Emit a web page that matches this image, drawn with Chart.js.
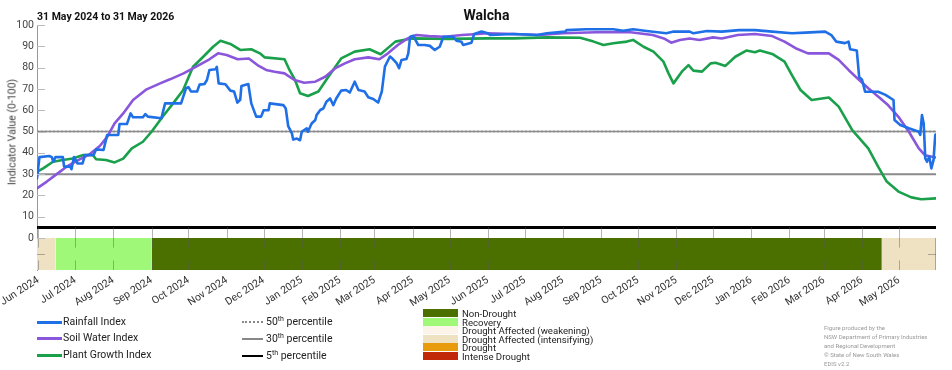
<!DOCTYPE html>
<html lang="en">
<head>
<meta charset="UTF-8" />
<title>Walcha - drought indicators</title>
<script src="https://cdn.jsdelivr.net/npm/chart.js"></script>
<style>
  body { margin: 0; background: #fff; font-family: Roboto, "Liberation Sans", sans-serif; color: #222; }
  #wrap { position: relative; width: 952px; height: 370px; overflow: hidden; }
  canvas { position: absolute; left: 0; top: 0; }
  .t { position: absolute; white-space: nowrap; }
  #title { left: 37px; width: 899px; top: 7px; text-align: center; font-weight: bold; font-size: 14px; color: #111; }
  #sub { left: 37px; top: 10px; font-weight: bold; font-size: 10.5px; color: #111; }
  #ytitle { left: 12px; top: 132px; font-size: 10.5px; color: #444; transform: translate(-50%, -50%) rotate(-90deg); }
  .sw { position: absolute; }
  .lg { position: absolute; font-size: 10.5px; line-height: 12px; color: #222; white-space: nowrap; }
  .lg sup { font-size: 7px; vertical-align: 4px; line-height: 0; }
  .dl { position: absolute; font-size: 9.6px; line-height: 9px; color: #222; white-space: nowrap; }
  .fig { position: absolute; left: 824px; font-size: 6px; color: #999; white-space: nowrap; }
</style>
</head>
<body>
<div id="wrap">
  <canvas id="chart" width="952" height="370"></canvas>
  <div id="title" class="t">Walcha</div>
  <div id="sub" class="t">31 May 2024 to 31 May 2026</div>
  <div id="ytitle" class="t">Indicator Value (0-100)</div>

  <div class="sw" style="left:37px;top:321px;width:25px;height:3px;background:#1f6fe6"></div>
  <div class="lg" style="left:63px;top:316px">Rainfall Index</div>
  <div class="sw" style="left:37px;top:337px;width:25px;height:3px;background:#8a56dc"></div>
  <div class="lg" style="left:63px;top:332px">Soil Water Index</div>
  <div class="sw" style="left:37px;top:354px;width:25px;height:3px;background:#1aa04a"></div>
  <div class="lg" style="left:63px;top:349px">Plant Growth Index</div>

  <div class="sw" style="left:242px;top:321px;width:21px;height:0;border-top:2px dotted #888"></div>
  <div class="lg" style="left:266px;top:316px">50<sup>th</sup> percentile</div>
  <div class="sw" style="left:242px;top:338px;width:21px;height:2px;background:#888"></div>
  <div class="lg" style="left:266px;top:333px">30<sup>th</sup> percentile</div>
  <div class="sw" style="left:242px;top:355px;width:21px;height:2px;background:#000"></div>
  <div class="lg" style="left:266px;top:350px">5<sup>th</sup> percentile</div>

  <div class="sw" style="left:423px;top:309px;width:35px;height:8px;background:#4c7000"></div>
  <div class="dl" style="left:462px;top:309px">Non-Drought</div>
  <div class="sw" style="left:423px;top:318px;width:35px;height:8px;background:#a0f878"></div>
  <div class="dl" style="left:462px;top:318px">Recovery</div>
  <div class="sw" style="left:423px;top:326px;width:35px;height:8px;background:#fcf4e9"></div>
  <div class="dl" style="left:462px;top:326px">Drought Affected (weakening)</div>
  <div class="sw" style="left:423px;top:335px;width:35px;height:8px;background:#eee2c3"></div>
  <div class="dl" style="left:462px;top:335px">Drought Affected (intensifying)</div>
  <div class="sw" style="left:423px;top:343px;width:35px;height:8px;background:#e89b0c"></div>
  <div class="dl" style="left:462px;top:343px">Drought</div>
  <div class="sw" style="left:423px;top:352px;width:35px;height:8px;background:#c02808"></div>
  <div class="dl" style="left:462px;top:352px">Intense Drought</div>

  <div class="fig" style="top:324px">Figure produced by the</div>
  <div class="fig" style="top:333px">NSW Department of Primary Industries</div>
  <div class="fig" style="top:342px">and Regional Development</div>
  <div class="fig" style="top:351px">© State of New South Wales</div>
  <div class="fig" style="top:360px">EDIS v2.2</div>
</div>

<script>
// days counted from 31 May 2024
const monthDays = [1, 31, 62, 93, 123, 154, 184, 215, 246, 274, 305, 335, 366, 396, 427, 458, 488, 519, 549, 580, 611, 639, 670, 700];
const monthLabels = ['Jun 2024', 'Jul 2024', 'Aug 2024', 'Sep 2024', 'Oct 2024', 'Nov 2024', 'Dec 2024', 'Jan 2025',
  'Feb 2025', 'Mar 2025', 'Apr 2025', 'May 2025', 'Jun 2025', 'Jul 2025', 'Aug 2025', 'Sep 2025', 'Oct 2025',
  'Nov 2025', 'Dec 2025', 'Jan 2026', 'Feb 2026', 'Mar 2026', 'Apr 2026', 'May 2026'];
const yTicks = [0, 10, 20, 30, 40, 50, 60, 70, 80, 90, 100];

const rainDays = [0, 2, 10, 12, 13.3, 15, 21, 22, 27, 28, 30, 33, 37, 39, 46, 48, 54, 57, 66, 67, 73, 76, 78, 86, 88, 90,
  101, 104, 117, 121, 123, 125, 130, 132, 136, 138, 140, 145, 146, 147.5, 153, 157, 160, 162.7, 165, 166, 171.6, 174,
  178, 182, 184, 188, 189, 200, 202, 204, 207, 208, 211, 213.6, 215, 219, 220, 223, 226, 227, 230, 232.5, 235, 238,
  240.6, 243, 247, 251, 254, 258, 261, 266, 269, 273, 277, 280, 282.5, 286.6, 289, 292, 294, 296, 300, 301.5, 303,
  305.5, 309.6, 315, 319, 323, 327, 330, 338, 340.6, 344.7, 346, 352.8, 355, 361, 366, 368, 387, 406, 414, 429, 430,
  446, 468, 476, 484, 495, 511, 517, 530, 533, 544, 556, 570, 583, 597, 613, 624, 640, 645, 649, 656, 659, 660.3,
  665.7, 667.6, 670, 672.4, 683, 689, 695.5, 696.3, 701, 708, 716, 717.2, 718.6, 720, 721.3, 722.7, 724.6, 726.2,
  728, 729.4, 730];
const rainfallIndex = [28, 38, 38.5, 38, 35.8, 38, 38, 33.5, 33.5, 32.3, 38, 35, 35, 39, 39, 41.6, 41.3, 48.4, 48.4,
  53.5, 53.5, 58.5, 56.7, 56.7, 58.2, 57, 56.2, 63.2, 63.2, 70.3, 70.8, 68.8, 68.8, 72, 72.3, 74.2, 78.9, 79.2, 80.3,
  72.6, 72.2, 69.2, 68.8, 63.6, 64.9, 71.4, 72.3, 63.2, 57, 57, 60, 60, 63.2, 62.4, 60.8, 52.5, 49.1, 46.2, 46.7, 45.9,
  49.9, 51.5, 49.9, 53.8, 55.4, 57.7, 60.1, 60.8, 64, 65.5, 62.4, 65.5, 69.2, 69.5, 68.3, 73.4, 69.5, 68.8, 66.1, 65.3,
  63.6, 68.8, 80.5, 85.2, 84, 82.1, 79.7, 83.6, 84, 86.7, 94.5, 94.9, 90.6, 90.6, 90.2, 88.3, 89.8, 94.5, 94.5, 92.6,
  92.1, 90.6, 91.7, 95.8, 96.9, 96.1, 95.3, 95.8, 95.3, 96.1, 96.9, 97.6, 98, 98, 97.3, 98, 97.2, 96.1, 96.9, 96.9,
  96.1, 97.2, 96.9, 97.6, 97.6, 96.9, 96.1, 96.4, 96.9, 95.3, 92.2, 91.5, 92.2, 88.6, 88, 75.7, 74.2, 68.7, 68.7, 67.2,
  64.8, 55.4, 53.1, 51.5, 49.9, 48.4, 57.7, 53.8, 37.4, 35.8, 38.2, 32.7, 36.6, 48.4, 48.7];

const soilDays = [0, 8, 16, 24, 35, 43, 51, 57, 63, 70, 78, 89, 100, 108, 119, 130, 140, 147, 154, 163, 172, 179, 186,
  193, 201, 209, 217, 226, 234, 242, 250, 258, 269, 278, 285, 293, 301, 308, 318, 331, 345, 358, 366, 387, 408, 427,
  454, 482, 500, 509, 515, 522, 530, 538, 549, 556, 569, 583, 597, 607, 616, 626, 643, 651, 659, 667, 675, 683, 691,
  699.5, 708, 716, 721, 730];
const soilWaterIndex = [23.3, 26.5, 30, 33.5, 37, 39.4, 43.2, 47.5, 53.8, 58.5, 64.8, 69.8, 72.6, 74.5, 77.3, 80.7,
  83.9, 86.7, 85.9, 83.9, 84.3, 81.2, 78.9, 78.1, 77.3, 74.2, 72.9, 73.4, 75.7, 79.6, 82, 83.9, 84.8, 83.9, 86.7, 90.6,
  93.7, 95.3, 94.8, 94.5, 95.3, 95.8, 96.1, 95.8, 95.3, 96.1, 96.6, 96.6, 95.3, 93.7, 91.7, 93, 93.7, 93, 94.2, 93.7,
  95.3, 95.8, 94.8, 92.2, 89.1, 86.7, 86.7, 83.6, 78.9, 74.5, 70.3, 66.4, 62.4, 56.9, 49.9, 42.1, 38.9, 37.8];

const plantDays = [0, 5, 13, 21, 29, 37, 45.5, 48, 56, 63, 70, 77, 86, 93, 102, 110.5, 118.6, 126.7, 135, 143, 149, 157,
  165, 174, 181, 185, 201, 205, 209.5, 213.6, 220, 228.5, 236.6, 247, 258, 270, 279, 291, 304, 335, 366, 387, 414, 441,
  452, 460, 468, 479, 484, 492.5, 500.6, 508.7, 512.8, 516.8, 523.6, 529, 533, 540, 547, 551, 559, 567, 576, 583, 587,
  597, 607, 613, 620, 629, 643, 651, 662, 675, 683, 690, 699.5, 710, 718, 730];
const plantGrowthIndex = [31.1, 32.7, 35.8, 36.6, 37.3, 38.9, 38.9, 37, 36.6, 35.5, 37.3, 42.1, 45.2, 49.9, 56.9, 63.2,
  69.4, 80.4, 85.1, 89.8, 92.6, 91.1, 88.3, 88.6, 86.7, 84.8, 83.9, 78.9, 74.2, 68, 66.7, 68.8, 75.7, 84.3, 87.5, 88.6,
  86.3, 92.2, 93.7, 93.5, 93.7, 93.7, 94.2, 94, 92.2, 90.6, 91.4, 92.2, 93, 89.8, 87.5, 82.8, 77.3, 72.6, 78.1, 81.2,
  78.6, 78.1, 82, 82.3, 80.8, 85.1, 88, 87.2, 88, 86.4, 82.8, 76.5, 69.5, 64.8, 66, 61.7, 50.7, 42.1, 33.5, 26.5, 21.8,
  19.1, 18.2, 18.6];

// drought category strip
const bandStart = [0, 15, 93, 686];
const bandEnd = [15, 93, 686, 730];
const bandClass = ['intensifying', 'recovery', 'nondrought', 'intensifying'];
const bandColours = { nondrought: '#4c7000', recovery: '#a0f878', weakening: '#fcf4e9', intensifying: '#eee2c3', drought: '#e89b0c', intense: '#c02808' };

const percentiles = [50, 30, 5];

function pts(days, vals) {
  return days.map((d, i) => ({ x: d, y: vals[i] }));
}

const datasets = [];
datasets.push({ label: 'Rainfall Index', data: pts(rainDays, rainfallIndex), borderColor: '#1f6fe6', borderWidth: 2.6, order: 1 });
datasets.push({ label: 'Soil Water Index', data: pts(soilDays, soilWaterIndex), borderColor: '#8a56dc', borderWidth: 2.6, order: 2 });
datasets.push({ label: 'Plant Growth Index', data: pts(plantDays, plantGrowthIndex), borderColor: '#1aa04a', borderWidth: 2.6, order: 3 });
datasets.push({ label: '50th', data: [{ x: 0, y: percentiles[0] }, { x: 730, y: percentiles[0] }], borderColor: '#888', borderWidth: 2, borderDash: [2, 2], order: 4 });
datasets.push({ label: '30th', data: [{ x: 0, y: percentiles[1] }, { x: 730, y: percentiles[1] }], borderColor: '#8a8a8a', borderWidth: 2, order: 5 });
datasets.push({ label: '5th', data: [{ x: 0, y: percentiles[2] }, { x: 730, y: percentiles[2] }], borderColor: '#000', borderWidth: 3, order: 6 });
bandStart.forEach((s, i) => {
  datasets.push({
    label: 'band' + i,
    data: [{ x: s, y: 0 }, { x: bandEnd[i], y: 0 }],
    borderWidth: 0,
    borderColor: 'rgba(0,0,0,0)',
    backgroundColor: bandColours[bandClass[i]],
    fill: { value: -15 },
    order: 10
  });
});

// small tick marks inside the plot (axis decoration)
const tickMarks = {
  id: 'tickMarks',
  afterDatasetsDraw(chart) {
    const { ctx, scales: { x, y }, chartArea: a } = chart;
    ctx.save();
    ctx.lineWidth = 1;
    ctx.strokeStyle = 'rgba(90,90,90,0.45)';
    monthDays.forEach(d => {
      const px = Math.round(x.getPixelForValue(d)) + 0.5;
      ctx.beginPath();
      ctx.moveTo(px, y.getPixelForValue(5));
      ctx.lineTo(px, y.getPixelForValue(-4.5));
      ctx.moveTo(px, y.getPixelForValue(-10.5));
      ctx.lineTo(px, y.getPixelForValue(-15));
      ctx.stroke();
    });
    ctx.strokeStyle = '#bbb';
    yTicks.forEach(v => {
      const py = Math.round(y.getPixelForValue(v)) + 0.5;
      ctx.beginPath();
      ctx.moveTo(a.left, py);
      ctx.lineTo(a.left + 8, py);
      ctx.stroke();
    });
    const pm = Math.round(y.getPixelForValue(-7.5)) + 0.5;
    ctx.strokeStyle = 'rgba(90,90,90,0.45)';
    ctx.beginPath();
    ctx.moveTo(a.left, pm); ctx.lineTo(a.left + 8, pm);
    ctx.moveTo(a.right - 8, pm); ctx.lineTo(a.right, pm);
    ctx.moveTo(a.right - 0.5, y.getPixelForValue(0)); ctx.lineTo(a.right - 0.5, a.bottom);
    ctx.stroke();
    ctx.restore();
  }
};

new Chart(document.getElementById('chart'), {
  type: 'line',
  data: { datasets },
  options: {
    responsive: false,
    animation: false,
    elements: { point: { radius: 0 }, line: { tension: 0, borderCapStyle: 'round', borderJoinStyle: 'round' } },
    layout: { padding: { top: 25, right: 16, left: 0, bottom: 0 } },
    plugins: { legend: { display: false }, tooltip: { enabled: false }, title: { display: false } },
    scales: {
      x: {
        type: 'linear',
        min: 0,
        max: 730,
        grid: { display: false },
        border: { display: false },
        afterBuildTicks: s => { s.ticks = monthDays.map(v => ({ value: v })); },
        afterFit: s => { s.height = 100; s.paddingLeft = 0; s.paddingRight = 0; },
        ticks: {
          autoSkip: false,
          minRotation: 33,
          maxRotation: 33,
          padding: -4,
          color: '#333',
          font: { family: 'Roboto', size: 10.5 },
          callback: (v, i) => monthLabels[i]
        }
      },
      y: {
        min: -15,
        max: 100,
        grid: { display: false, drawTicks: false },
        border: { display: true, color: '#999', width: 1 },
        afterBuildTicks: s => { s.ticks = yTicks.map(v => ({ value: v })); },
        afterFit: s => { s.width = 37; },
        ticks: { padding: 3, color: '#444', font: { family: 'Roboto', size: 10.5 } }
      }
    }
  },
  plugins: [tickMarks]
});
</script>
</body>
</html>
